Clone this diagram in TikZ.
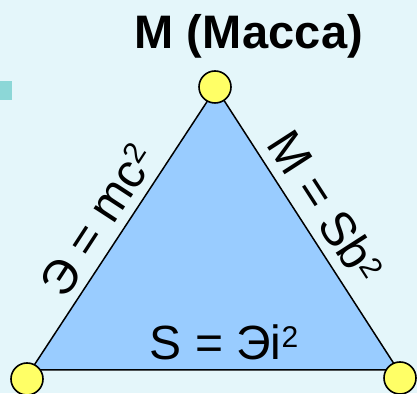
\documentclass[tikz,border=0pt]{standalone}
\usepackage{fontspec}
\setmainfont{Liberation Sans}
\usetikzlibrary{calc}
\definecolor{bgc}{RGB}{228,246,250}
\definecolor{trifill}{RGB}{153,204,255}
\definecolor{dotc}{RGB}{255,255,102}
\definecolor{sqc}{RGB}{140,215,215}
\newcommand\supx[1]{\raisebox{12pt}{\fontsize{30}{30}\selectfont #1}}
\tikzset{
  vdot/.style={circle, draw=black, line width=1.6pt, fill=dotc, minimum size=32pt, inner sep=0pt},
  lbl/.style={inner sep=0pt, font=\fontsize{48}{52}\selectfont, anchor=base},
  ttl/.style={inner sep=0pt, font=\fontsize{47}{50}\selectfont\bfseries, anchor=base},
  tri/.style={draw=black, line width=1.5pt, fill=trifill}
}
\begin{document}
\begin{tikzpicture}[x=1pt,y=1pt]
\useasboundingbox (0,0) rectangle (417,393);
\fill[bgc] (0,0) rectangle (417,393);
\fill[sqc] (0,293) rectangle (12,312);
\coordinate (T) at (216,305);
\coordinate (L) at (31,23);
\coordinate (R) at (398,23);
\draw[tri] (T) -- (L) -- (R) -- cycle;
\node[ttl] (title) at (249,344) {М (Масса)};
\node[lbl, rotate=56.9] (lleft) at ($(L)!0.48!(T)!10pt!90:(T)$) {Э = mc\supx{2}};
\node[lbl, rotate=-57.2] (lright) at ($(T)!0.475!(R)!11pt!90:(R)$) {M = Sb\supx{2}};
\node[lbl] (lbottom) at (224,34) {S = Эi\supx{2}};
\node[vdot] (vt) at (215,306) {};
\node[vdot] (vl) at (27,14) {};
\node[vdot] (vr) at (400,15) {};
\end{tikzpicture}
\end{document}
